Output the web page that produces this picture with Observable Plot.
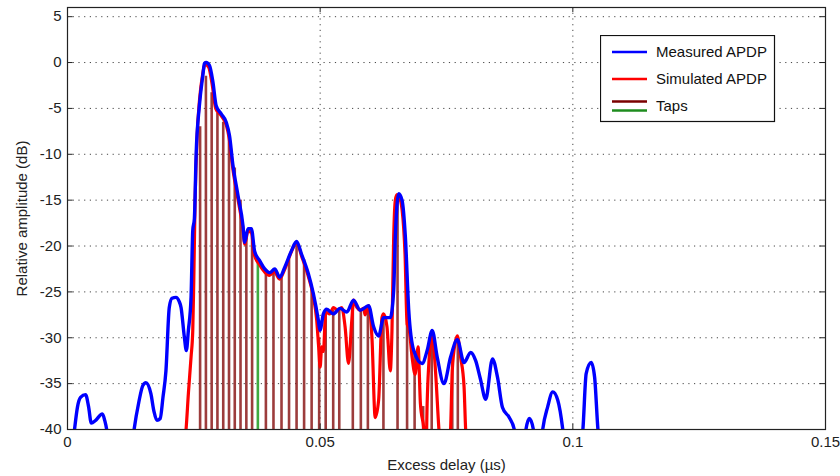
<!DOCTYPE html>
<html>
<head>
<meta charset="utf-8">
<script src="https://cdn.jsdelivr.net/npm/d3@7"></script>
<script src="https://cdn.jsdelivr.net/npm/@observablehq/plot@0.6"></script>
<style>
  html, body { margin: 0; padding: 0; background: #fff; }
  #wrap { position: relative; width: 840px; height: 476px; font-family: "Liberation Sans", Arial, sans-serif; }
  #legend { position: absolute; left: 600px; top: 35px; }
</style>
</head>
<body>
<div id="wrap"></div>
<script>
// ---- Data ----
// Measured APDP (blue): excess delay (µs), relative amplitude (dB); values < -40 lie outside the axes
const measuredDelay = [0.00099,0.00139,0.00199,0.00258,0.00358,0.00417,0.00471,0.00557,0.00690,0.00736,0.00775,0.00815,
  0.01272,0.01318,0.01412,0.01491,0.01551,0.01650,0.01710,0.01769,0.01835,0.01889,0.01948,0.02014,0.02068,0.02147,0.02207,
  0.02247,0.02312,0.02352,0.02392,0.02445,0.02479,0.02511,0.02545,0.02610,0.02678,0.02710,0.02744,0.02809,0.02877,0.02942,
  0.03042,0.03141,0.03207,0.03274,0.03374,0.03473,0.03505,0.03573,0.03638,0.03704,0.03803,0.03903,0.04002,0.04101,0.04201,
  0.04300,0.04433,0.04533,0.04632,0.04765,0.04865,0.04964,0.04996,0.05064,0.05129,0.05262,0.05394,0.05527,0.05660,0.05791,
  0.05958,0.06058,0.06157,0.06256,0.06388,0.06455,0.06487,0.06555,0.06620,0.06686,0.06753,0.06853,0.07018,0.07117,0.07217,
  0.07316,0.07449,0.07581,0.07714,0.07847,0.07978,0.08077,0.08171,0.08276,0.08410,0.08509,0.08608,0.08742,0.08841,0.08887,
  0.09026,0.09072,0.09139,0.09219,0.09264,0.09364,0.09404,0.09503,0.09602,0.09702,0.09801,0.09841,0.10159,0.10199,0.10264,
  0.10364,0.10431,0.10497,0.10537];
const measuredDb = [-42,-40,-37.5,-36.5,-36.2,-37.5,-39.3,-39,-38.3,-39,-40,-42,
  -42,-40,-37,-35.2,-34.9,-36.1,-38,-39,-38.8,-36.5,-33.6,-26.7,-25.7,-25.6,-26,
  -26.7,-29.9,-31.4,-29.2,-25.6,-18.3,-17,-10.1,-4.7,-1.4,-0.1,0,-0.3,-2.1,-4.7,
  -5.6,-6.5,-8,-11.2,-14.5,-17.8,-19.6,-18.1,-18.1,-20.6,-21.6,-22.5,-22.9,-22.5,-23.4,
  -22.3,-20.5,-19.5,-20.9,-23,-25.2,-28.1,-29.2,-27.4,-26.9,-27.4,-26.8,-27.2,-25.9,-27,
  -26.5,-28.8,-29.8,-27.8,-27.8,-24.8,-19,-14.3,-15,-19,-27,-31.4,-32.8,-31.4,-29.2,
  -32.1,-35,-32.1,-30.2,-32.7,-31.6,-32.5,-34.5,-36.7,-32.3,-34.3,-37.6,-38.7,-40,-42,
  -42,-40,-38.8,-40,-42,-42,-40,-37.5,-35.9,-36.8,-40,-42,-42,-40,-33.9,
  -32.7,-34.3,-40,-42];

// Simulated APDP (red)
const simulatedDelay = [0.02306,0.02346,0.02392,0.02445,0.02479,0.02499,0.02525,0.02565,0.02614,0.02674,0.02724,0.02793,
  0.02863,0.02932,0.03042,0.03141,0.03201,0.03270,0.03370,0.03469,0.03509,0.03569,0.03638,0.03698,0.03797,0.03897,0.03996,
  0.04095,0.04195,0.04294,0.04433,0.04533,0.04632,0.04765,0.04865,0.04930,0.04970,0.05000,0.05030,0.05064,0.05109,0.05189,
  0.05262,0.05348,0.05427,0.05493,0.05561,0.05626,0.05660,0.05726,0.05791,0.05859,0.05891,0.05958,0.06024,0.06089,0.06157,
  0.06223,0.06256,0.06322,0.06388,0.06421,0.06455,0.06487,0.06521,0.06561,0.06620,0.06680,0.06720,0.06759,0.06819,0.06879,
  0.06938,0.06984,0.07052,0.07078,0.07097,0.07117,0.07183,0.07217,0.07282,0.07350,0.07376,0.07555,0.07581,0.07614,0.07674,
  0.07714,0.07779,0.07847,0.07879,0.07913];
const simulatedDb = [-42,-40,-36.1,-32.1,-29.2,-23.8,-15,-8,-4,-1.3,-0.2,-0.5,
  -2.4,-5,-5.8,-6.8,-8.3,-11.5,-14.8,-18,-19.8,-18.4,-18.5,-21,-22,-22.8,-23.2,
  -22.8,-23.6,-22.6,-20.6,-19.6,-21.1,-23.3,-25.5,-28,-31,-33.2,-31,-31.5,-27.2,-27.4,
  -26.7,-27,-26.7,-28.8,-32.8,-28.1,-25.9,-26.7,-27,-26.8,-27.5,-26.5,-29.9,-38.7,-36.8,
  -27.8,-27.4,-28.8,-33.6,-29.2,-19,-15,-14.4,-14.6,-16,-21,-28.5,-29,-32.1,-34,
  -31,-37.2,-40,-42,-42,-37.2,-30.6,-29.6,-33.6,-40,-42,-42,-40,-33.6,-30.5,
  -29.8,-32.1,-35.3,-40,-42];

// Taps
const tapDelay = [0.02624,0.02739,0.02853,0.02967,0.03082,0.03196,0.03310,0.03424,0.03539,0.03653,0.03767,
  0.03926,0.04076,0.04235,0.04384,0.04533,0.04682,0.04831,0.04980,0.05109,0.05258,0.05378,0.05646,0.05805,
  0.05944,0.06252,0.06531,0.06720,0.06869,0.07038,0.07207,0.07614,0.07724];
const tapDb = [-7,-1.5,-3.3,-5.5,-6.5,-7.8,-11.5,-15,-19,-18.5,-21.8,
  -23,-23,-23.3,-21.5,-19.8,-21.5,-24.5,-30,-27.2,-27,-27,-26,-27,
  -26.5,-27.8,-14.6,-28.5,-31.5,-37.5,-29.8,-32,-30];
const tapGroup = tapDelay.map((d, i) => i === 10 ? "green" : "red");

// Axes
const xTicks = [0, 0.05, 0.1, 0.15];
const xTickLabels = ["0", "0.05", "0.1", "0.15"];
const yTicks = [5, 0, -5, -10, -15, -20, -25, -30, -35, -40];
const yTickLabels = ["5", "0", "-5", "-10", "-15", "-20", "-25", "-30", "-35", "-40"];
const xLabel = "Excess delay (µs)";
const yLabel = "Relative amplitude (dB)";
const legendLabels = ["Measured APDP", "Simulated APDP", "Taps"];

// ---- Build tables ----
const measured = measuredDelay.map((x, i) => ({x, y: measuredDb[i]}));
const simulated = simulatedDelay.map((x, i) => ({x, y: simulatedDb[i]}));
const taps = tapDelay.map((x, i) => ({x, y: tapDb[i], g: tapGroup[i]}));

const font = "'Liberation Sans', Arial, sans-serif";
const chart = Plot.plot({
  width: 840,
  height: 476,
  marginLeft: 67,
  marginRight: 15,
  marginTop: 7,
  marginBottom: 47,
  style: {fontFamily: font, fontSize: "15px", color: "#222", background: "#fff"},
  x: {domain: [0, 0.15]},
  y: {domain: [-40, 6]},
  marks: [
    Plot.gridX(xTicks, {stroke: "#333", strokeOpacity: 0.9, strokeDasharray: "1.2,4.5"}),
    Plot.gridY(yTicks, {stroke: "#333", strokeOpacity: 0.9, strokeDasharray: "1.2,4.5"}),
    Plot.ruleX(taps, {x: "x", y1: -40, y2: "y", stroke: d => d.g === "green" ? "#1e9a1e" : "#8b1a1a", strokeWidth: 2.6, strokeOpacity: 0.85, clip: true}),
    Plot.line(simulated, {x: "x", y: "y", stroke: "#ff0000", strokeWidth: 3.2, curve: "monotone-x", clip: true}),
    Plot.line(measured, {x: "x", y: "y", stroke: "#0000ff", strokeWidth: 3.4, curve: "monotone-x", clip: true}),
    Plot.ruleX(xTicks, {x: d => d, y1: -40, y2: -39.45, stroke: "#222"}),
    Plot.ruleX(xTicks, {x: d => d, y1: 6, y2: 5.45, stroke: "#222"}),
    Plot.ruleY(yTicks, {y: d => d, x1: 0, x2: 0.0011, stroke: "#222"}),
    Plot.ruleY(yTicks, {y: d => d, x1: 0.15, x2: 0.1489, stroke: "#222"}),
    Plot.frame({stroke: "#222", strokeWidth: 1.2}),
    Plot.axisX(xTicks, {tickSize: 0, tickPadding: 7, tickFormat: (d, i) => xTickLabels[i], label: xLabel, labelAnchor: "center", labelArrow: "none", labelOffset: 40, fill: "#222"}),
    Plot.axisY(yTicks, {tickSize: 0, tickPadding: 6, tickFormat: (d, i) => yTickLabels[i], label: yLabel, labelAnchor: "center", labelArrow: "none", labelOffset: 51, fill: "#222"})
  ]
});

const wrap = document.getElementById("wrap");
wrap.appendChild(chart);

// Legend (box inside the plot area, top right)
const ns = "http://www.w3.org/2000/svg";
const lg = document.createElementNS(ns, "svg");
lg.setAttribute("id", "legend");
lg.setAttribute("width", 176);
lg.setAttribute("height", 88);
lg.setAttribute("font-family", font);
lg.setAttribute("font-size", "15px");
const legendItems = [
  {label: legendLabels[0], colors: ["#0000ff"], cy: 17},
  {label: legendLabels[1], colors: ["#ff0000"], cy: 44},
  {label: legendLabels[2], colors: ["#7a0000", "#1e8c1e"], cy: 71}
];
let html = `<rect x="0.5" y="0.5" width="174" height="86" fill="#fff" stroke="#111" stroke-width="1.2"/>`;
for (const it of legendItems) {
  if (it.colors.length === 1) {
    html += `<line x1="12" x2="47" y1="${it.cy}" y2="${it.cy}" stroke="${it.colors[0]}" stroke-width="2.5"/>`;
  } else {
    html += `<line x1="12" x2="47" y1="${it.cy - 4.5}" y2="${it.cy - 4.5}" stroke="${it.colors[0]}" stroke-width="2.5"/>`;
    html += `<line x1="12" x2="47" y1="${it.cy + 4.5}" y2="${it.cy + 4.5}" stroke="${it.colors[1]}" stroke-width="2.5"/>`;
  }
  html += `<text x="56" y="${it.cy}" dy="0.35em" fill="#111">${it.label}</text>`;
}
lg.innerHTML = html;
wrap.appendChild(lg);
</script>
</body>
</html>
